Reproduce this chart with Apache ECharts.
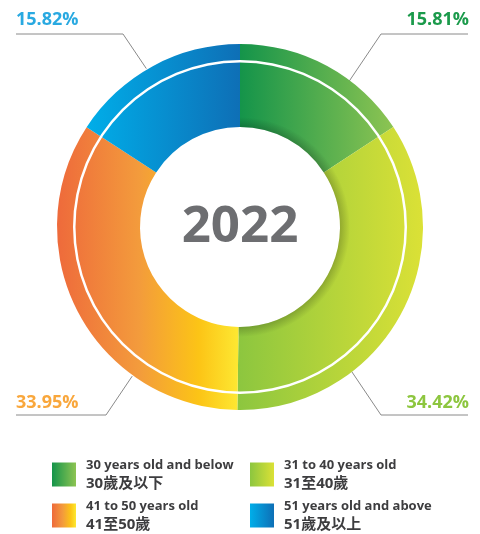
<!DOCTYPE html>
<html><head><meta charset="utf-8">
<script src="https://cdn.jsdelivr.net/npm/echarts@6/dist/echarts.min.js"></script>
<style>html,body{margin:0;padding:0;background:#fff}#c{width:480px;height:534px}</style>
</head><body><div id="c"></div>
<script>
// ---- data ----
const categoriesEn = ['30 years old and below', '31 to 40 years old', '41 to 50 years old', '51 years old and above'];
const categoriesZh = ['30歲及以下', '31至40歲', '41至50歲', '51歲及以上'];
const shares = [15.81, 34.42, 33.95, 15.82];
const yearLabel = '2022';

// ---- styles ----
const sliceFills = [
  [[0, '#14944a'], [1, '#8dc452']],
  [[0, '#8cc63f'], [1, '#dbe136']],
  [[0, '#ee6a3b'], [0.45, '#f39b3c'], [0.78, '#fcc416'], [1, '#fde832']],
  [[0, '#00aee9'], [1, '#0e6fb6']]
];
const labelColors = ['#1b9a4b', '#8dc63f', '#f9a73c', '#29a9e1'];
const innerShadow = [true, true, false, false];
const CX = 240, CY = 227, R0 = 100, R1 = 183;

const chart = echarts.init(document.getElementById('c'));
const grad = s => new echarts.graphic.LinearGradient(0, 0, 1, 0, s.map(([o, c]) => ({offset: o, color: c})));

const pieData = shares.map((v, i) => ({
  name: categoriesEn[i], value: v,
  itemStyle: {color: grad(sliceFills[i])},
  label: {color: labelColors[i]}
}));

const shadowFill = new echarts.graphic.RadialGradient(CX, CY, R0 + 10, [
  {offset: R0 / (R0 + 10), color: 'rgba(0,0,0,0.2)'},
  {offset: 1, color: 'rgba(0,0,0,0)'}
], true);
const shadowData = shares.map((v, i) => ({
  name: 's' + i, value: v,
  itemStyle: {color: innerShadow[i] ? shadowFill : 'rgba(0,0,0,0)'}
}));

function leader(p) {
  const r = p.rect;
  const mx = r.x + r.width / 2, my = r.y + r.height / 2;
  const right = mx > CX, top = my < CY;
  const W = chart.getWidth();
  const lineY = top ? CY - R1 - 10 : CY + R1 + 5;
  const edgeX = right ? W - 12 : 16;
  const run = right ? 87 : (top ? 107 : 90);
  const elbowX = right ? edgeX - run : edgeX + run;
  const d = [right ? -0.56 : 0.56, top ? 0.83 : -0.83];
  const rEnd = right ? 175 : 184;
  const e = [elbowX - CX, lineY - CY];
  const ed = e[0] * d[0] + e[1] * d[1];
  const cc = e[0] * e[0] + e[1] * e[1] - rEnd * rEnd;
  const t = -ed - Math.sqrt(Math.max(0, ed * ed - cc));
  const end = [elbowX + t * d[0], lineY + t * d[1]];
  return {
    x: right ? W - 11 : 16,
    y: lineY - (top ? 14 : 12),
    align: right ? 'right' : 'left',
    verticalAlign: 'middle',
    hideOverlap: false,
    labelLinePoints: [end, [elbowX, lineY], [edgeX, lineY]]
  };
}

const legendFont = '"Open Sans", "Noto Sans CJK TC"';
chart.setOption({
  animation: false,
  backgroundColor: '#fff',
  legend: {
    data: categoriesEn,
    left: 52, top: 459, width: 428, padding: 0,
    itemWidth: 24, itemHeight: 24, itemGap: 9,
    icon: 'rect', selectedMode: false,
    formatter: name => '{en|' + name + '}\n{zh|' + categoriesZh[categoriesEn.indexOf(name)] + '}',
    textStyle: {
      padding: [0, 0, 0, 5],
      rich: {
        en: {fontFamily: legendFont, fontWeight: 'bold', fontSize: 13, color: '#3d3d3f', lineHeight: 18, width: 155},
        zh: {fontFamily: legendFont, fontWeight: 'bold', fontSize: 15, color: '#3d3d3f', lineHeight: 18, width: 155}
      }
    }
  },
  graphic: [{
    type: 'text', x: CX, y: CY, silent: true, z: 10,
    style: {text: yearLabel, fontFamily: '"Open Sans"', fontWeight: 'bold', fontSize: 51, fill: '#6d6e71', align: 'center', verticalAlign: 'middle'}
  }],
  series: [{
    type: 'pie', center: [CX, CY], radius: [R0, R1],
    startAngle: 90, clockwise: true, silent: true,
    avoidLabelOverlap: false,
    emphasis: {disabled: true},
    data: pieData,
    label: {show: true, formatter: '{c}%', fontFamily: '"Open Sans"', fontWeight: 'bold', fontSize: 18,
      alignTo: 'edge', edgeDistance: 16, overflow: 'none'},
    labelLine: {show: true, length: 15, length2: 30, lineStyle: {color: '#8a8a8a', width: 1}},
    labelLayout: leader
  }, {
    type: 'pie', center: [CX, CY], radius: [R0, R0 + 10], silent: true,
    startAngle: 90, clockwise: true,
    emphasis: {disabled: true},
    label: {show: false}, labelLine: {show: false},
    data: shadowData
  }, {
    type: 'pie', center: [CX, CY], radius: [164.5, 167], silent: true,
    emphasis: {disabled: true},
    label: {show: false}, labelLine: {show: false},
    data: [{name: 'ring', value: 1, itemStyle: {color: '#ffffff'}}]
  }]
});
</script></body></html>
